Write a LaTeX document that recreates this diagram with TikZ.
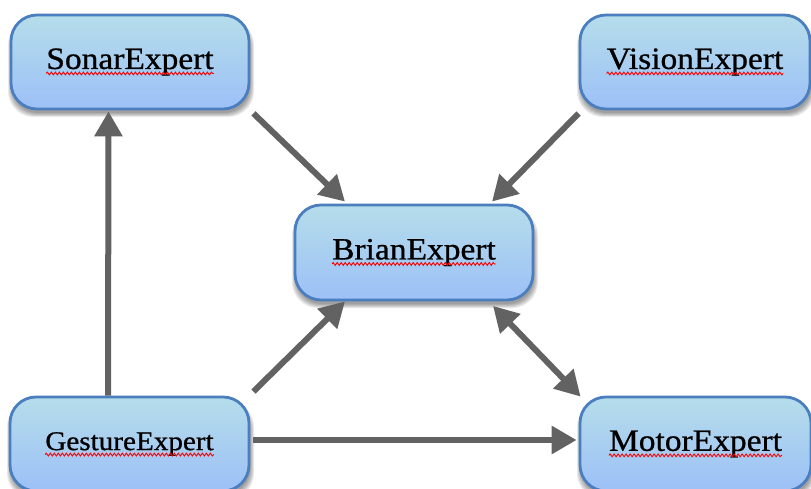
\documentclass[tikz,border=0pt]{standalone}
\usepackage{fontspec}
\setmainfont{Liberation Serif}
\newfontfamily\boxfont[FakeStretch=1.08, FakeBold=0.8]{Liberation Serif}
\usetikzlibrary{arrows.meta,calc,decorations.pathmorphing}

\definecolor{boxtop}{HTML}{B5DDEA}
\definecolor{boxbot}{HTML}{9DC0F7}
\definecolor{boxline}{HTML}{4A7EBE}
\definecolor{arrowgray}{HTML}{626262}

\tikzset{
  expert/.style={rectangle, rounded corners=26pt, draw=boxline, line width=2.8pt,
    top color=boxtop, bottom color=boxbot, inner sep=0pt},
  caption/.style={inner sep=0pt, text=black},
  spell/.style={draw=red, line width=0.9pt,
    decorate, decoration={snake, amplitude=1.4pt, segment length=4pt}},
  link/.style={draw=arrowgray, line width=6pt,
    -{Triangle[length=25pt,width=27pt]}},
  twoway/.style={draw=arrowgray, line width=6pt,
    {Triangle[length=25pt,width=27pt]}-{Triangle[length=25pt,width=27pt]}},
}

% #1 name, #2 centre, #3 width, #4 height, #5 font size, #6 text
\newcommand\expertbox[6]{%
  \foreach \g in {0,1,2,3,4} {
    \fill[black, opacity=0.09, rounded corners=26pt]
      ($(#2)+({-#3/2-\g+1},{-#4/2-\g-4})$) rectangle ($(#2)+({#3/2+\g+1},{#4/2+\g-8})$);
  }
  \node[expert, minimum width=#3pt, minimum height=#4pt] (#1) at (#2) {};
  \node[caption, font=\boxfont\fontsize{#5}{#5}\selectfont] (#1-t) at (#1) {#6};
  \path[spell] ([yshift=-4.5pt]#1-t.base west) -- ([yshift=-4.5pt]#1-t.base east);
}

\begin{document}
\begin{tikzpicture}[x=1pt, y=1pt]
  \useasboundingbox (0,0) rectangle (811,488);

  % the five experts
  \expertbox{sonar}{130,426}{238}{94}{31}{SonarExpert}
  \expertbox{vision}{695,426}{230}{94}{31}{VisionExpert}
  \expertbox{brian}{414,235.5}{238}{95}{31}{BrianExpert}
  \expertbox{gesture}{129.5,44}{239}{94}{27}{GestureExpert}
  \expertbox{motor}{695.5,44}{231}{94}{31}{MotorExpert}

  % connections
  \draw[link] ([xshift=-21.5pt]gesture.north) -- ([shift={(-21.5pt,-1pt)}]sonar.south);
  \draw[link] ([shift={(3pt,-3pt)}]sonar.south east) -- ([shift={(-69pt,2pt)}]brian.north);
  \draw[link] ([shift={(0pt,-3pt)}]vision.south west) -- ([shift={(78pt,2pt)}]brian.north);
  \draw[link] ([shift={(3pt,4pt)}]gesture.north east) -- ([shift={(-69pt,0pt)}]brian.south);
  \draw[twoway] ([shift={(79pt,-4.5pt)}]brian.south) -- ([shift={(2pt,-1pt)}]motor.north west);
  \draw[link] ([shift={(3pt,4pt)}]gesture.east) -- ([shift={(-2pt,4pt)}]motor.west);
\end{tikzpicture}
\end{document}
